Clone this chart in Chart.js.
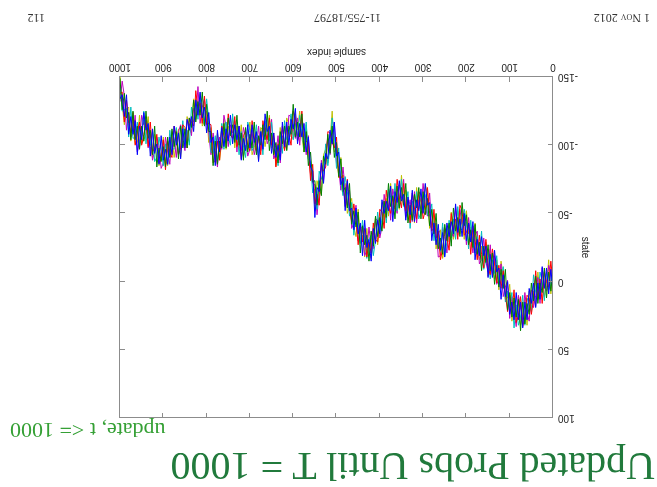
<!DOCTYPE html>
<html>
<head>
<meta charset="utf-8">
<script src="https://cdn.jsdelivr.net/npm/chart.js@4"></script>
<style>
  html, body { margin: 0; padding: 0; background: #fff; }
  #slide {
    position: relative; width: 657px; height: 487px; overflow: hidden;
    background: #fff; transform: rotate(180deg);
  }
  #slide canvas { position: absolute; left: 0; top: 0; }
  .title {
    position: absolute; left: 2px; top: -3px; white-space: nowrap;
    font: 40px "Liberation Serif", "Times New Roman", serif; color: #217a3c;
  }
  .sub {
    position: absolute; right: 10px; top: 44px; white-space: nowrap;
    font: 22px "Liberation Serif", "Times New Roman", serif; color: #35a035;
  }
  .foot {
    position: absolute; top: 462px; white-space: nowrap;
    font: 12px "Liberation Serif", "Times New Roman", serif; color: #333;
  }
</style>
</head>
<body>
<div id="slide">
  <canvas id="chart" width="657" height="487"></canvas>
  <div class="title">Updated Probs Until T = 1000</div>
  <div class="sub">update, t &lt;= 1000</div>
  <div class="foot" style="left:7px">1 <span style="font-variant:small-caps">Nov</span> 2012</div>
  <div class="foot" style="left:276px">11-755/18797</div>
  <div class="foot" style="left:612px">112</div>
</div>
<script>
// sample index of every plotted point
const sampleIdx = [
  0,5,10,15,20,25,30,35,40,45, 50,55,60,65,70,75,80,85,90,95,
  100,105,110,115,120,125,130,135,140,145, 150,155,160,165,170,175,180,185,190,195,
  200,205,210,215,220,225,230,235,240,245, 250,255,260,265,270,275,280,285,290,295,
  300,305,310,315,320,325,330,335,340,345, 350,355,360,365,370,375,380,385,390,395,
  400,405,410,415,420,425,430,435,440,445, 450,455,460,465,470,475,480,485,490,495,
  500,505,510,515,520,525,530,535,540,545, 550,555,560,565,570,575,580,585,590,595,
  600,605,610,615,620,625,630,635,640,645, 650,655,660,665,670,675,680,685,690,695,
  700,705,710,715,720,725,730,735,740,745, 750,755,760,765,770,775,780,785,790,795,
  800,805,810,815,820,825,830,835,840,845, 850,855,860,865,870,875,880,885,890,895,
  900,905,910,915,920,925,930,935,940,945, 950,955,960,965,970,975,980,985,990,995,
  1000];

const xTicks = [0,100,200,300,400,500,600,700,800,900,1000];
const yTicks = [-150,-100,-50,0,50,100];

// state of each particle run
const runBlue = [
  6,-9,9,-10,5,-11,13,1,19,1, 16,5,28,15,34,15,28,8,28,15,
  24,0,11,-5,13,-10,-7,-23,-3,-20, -3,-26,-19,-33,-19,-31,-16,-44,-29,-43,
  -30,-50,-33,-46,-36,-57,-35,-44,-33,-43, -18,-36,-23,-42,-27,-43,-30,-58,-56,-72,
  -50,-68,-52,-60,-44,-67,-49,-62,-45,-64, -59,-74,-58,-66,-44,-70,-52,-59,-50,-60,
  -35,-45,-28,-39,-15,-31,-25,-45,-19,-43, -35,-54,-38,-54,-52,-74,-52,-76,-71,-95,
  -92,-117,-101,-111,-90,-94,-72,-87,-66,-69, -47,-81,-84,-106,-95,-116,-106,-116,-101,-127,
  -112,-119,-100,-117,-99,-117,-89,-100,-91,-109, -94,-114,-110,-123,-97,-110,-88,-110,-102,-115,
  -98,-115,-96,-105,-89,-114,-104,-115,-101,-122, -103,-112,-99,-113,-95,-111,-85,-106,-102,-124,
  -109,-128,-120,-139,-122,-133,-110,-121,-111,-119, -98,-112,-90,-109,-100,-114,-93,-106,-86,-97,
  -89,-107,-86,-101,-94,-112,-92,-116,-111,-124, -104,-114,-93,-118,-108,-121,-108,-137,-121,-137,
  -134];
const runGreen = [
  -9,7,-7,12,-10,8,1,16,-4,14, 1,24,16,31,15,36,13,26,12,26,
  8,21,-9,5,-9,4,-12,2,-21,-8, -27,-14,-26,-8,-29,-20,-42,-25,-38,-27,
  -49,-41,-58,-33,-47,-37,-54,-26,-43,-30, -42,-20,-32,-24,-50,-35,-53,-41,-61,-49,
  -66,-46,-69,-54,-64,-45,-56,-43,-72,-56, -69,-54,-70,-46,-63,-55,-72,-47,-59,-37,
  -47,-33,-48,-26,-37,-15,-34,-27,-41,-21, -51,-40,-52,-42,-72,-54,-69,-66,-90,-77,
  -102,-91,-114,-94,-108,-86,-92,-63,-74,-56, -74,-73,-95,-85,-110,-95,-123,-106,-117,-106,
  -130,-108,-114,-96,-114,-101,-110,-87,-102,-93, -109,-96,-125,-104,-115,-100,-107,-93,-117,-98,
  -108,-95,-113,-89,-109,-100,-122,-102,-115,-107, -120,-98,-116,-98,-103,-86,-103,-85,-110,-110,
  -130,-114,-139,-122,-132,-117,-133,-113,-120,-98, -112,-98,-114,-90,-110,-99,-112,-91,-106,-84,
  -99,-88,-98,-84,-114,-93,-111,-105,-125,-103, -114,-97,-114,-104,-125,-104,-124,-120,-138,-126,
  -149];
const runRed = [
  1,-15,4,0,-7,16,-2,13,-8,13, 24,12,10,26,33,11,25,30,6,22,
  10,22,9,-8,5,-12,1,-13,-24,-5, -11,-31,-10,-20,-34,-16,-31,-41,-20,-42,
  -36,-34,-52,-56,-31,-46,-38,-50,-23,-32, -39,-24,-16,-37,-32,-53,-37,-50,-69,-52,
  -46,-63,-66,-46,-54,-65,-43,-60,-52,-72, -54,-62,-75,-53,-62,-50,-55,-67,-39,-51,
  -53,-29,-31,-43,-21,-29,-18,-39,-29,-42, -27,-45,-57,-44,-54,-75,-55,-78,-76,-77,
  -106,-98,-102,-109,-110,-84,-81,-86,-56,-64, -57,-86,-74,-102,-103,-100,-125,-109,-103,-120,
  -125,-100,-108,-114,-96,-114,-95,-101,-84,-109, -100,-120,-104,-109,-118,-93,-106,-96,-106,-118,
  -96,-100,-110,-107,-90,-106,-99,-121,-105,-108, -123,-102,-107,-114,-89,-103,-89,-87,-115,-116,
  -115,-136,-116,-131,-126,-140,-114,-117,-120,-98, -113,-115,-98,-93,-106,-114,-91,-95,-103,-82,
  -104,-90,-87,-108,-98,-95,-117,-99,-118,-108, -100,-117,-109,-100,-124,-109,-116,-133,-117,-139,
  -138];
const runCyan = [
  -14,2,6,-7,14,0,-7,11,8,-5, 22,17,12,32,10,26,32,17,34,8,
  19,7,15,-11,1,2,-19,-6,-16,-2, -23,-16,-9,-37,-20,-33,-21,-29,-45,-24,
  -44,-53,-38,-39,-55,-31,-46,-32,-45,-29, -19,-43,-22,-29,-42,-30,-57,-48,-49,-64,
  -63,-51,-46,-66,-50,-59,-39,-66,-56,-55, -75,-60,-52,-72,-52,-62,-68,-43,-57,-46,
  -36,-51,-30,-19,-34,-31,-17,-32,-45,-28, -37,-52,-34,-58,-48,-66,-77,-63,-73,-98,
  -83,-107,-120,-99,-85,-101,-80,-75,-81,-53, -68,-65,-88,-90,-117,-98,-109,-122,-107,-116,
  -104,-123,-104,-104,-118,-94,-107,-85,-99,-99, -117,-103,-108,-118,-93,-110,-92,-115,-100,-96,
  -111,-117,-91,-100,-110,-93,-111,-104,-123,-100, -106,-117,-97,-116,-98,-89,-107,-94,-95,-118,
  -134,-115,-123,-134,-119,-134,-117,-128,-100,-111, -101,-118,-100,-94,-113,-97,-98,-111,-86,-101,
  -85,-97,-106,-91,-88,-110,-100,-115,-101,-125, -107,-99,-117,-106,-105,-128,-106,-127,-126,-125,
  -145];
const runMagenta = [
  9,-6,-12,7,3,-10,16,-3,10,19, 6,29,23,8,28,19,10,33,22,11,
  27,-1,4,11,-13,-2,2,-19,-6,-27, -7,-15,-32,-16,-13,-37,-34,-21,-33,-47,
  -27,-48,-42,-53,-34,-55,-33,-36,-42,-21, -33,-40,-19,-18,-43,-38,-38,-65,-48,-55,
  -72,-53,-60,-43,-66,-44,-60,-52,-47,-75, -61,-71,-50,-59,-68,-45,-66,-52,-64,-40,
  -32,-46,-45,-24,-25,-40,-23,-19,-40,-39, -30,-56,-43,-39,-67,-56,-68,-84,-67,-83,
  -87,-117,-108,-93,-105,-94,-74,-89,-65,-49, -71,-72,-78,-107,-93,-111,-120,-100,-120,-105,
  -113,-121,-122,-97,-101,-107,-87,-107,-94,-90, -119,-106,-101,-115,-115,-96,-114,-100,-93,-111,
  -97,-92,-106,-113,-96,-114,-95,-118,-109,-115, -99,-114,-122,-97,-106,-84,-96,-109,-93,-109,
  -116,-134,-128,-116,-143,-119,-127,-107,-116,-118, -96,-102,-115,-110,-91,-105,-110,-86,-95,-106,
  -87,-83,-100,-106,-96,-89,-108,-98,-121,-115, -122,-103,-95,-122,-108,-106,-124,-111,-136,-147,
  -132];
const runOlive = [
  -7,9,-16,3,11,-6,9,-7,18,7, 19,7,32,13,24,32,11,28,16,29,
  2,12,13,-3,-15,6,-16,-2,-10,-24, -4,-29,-14,-26,-16,-24,-43,-24,-40,-35,
  -52,-31,-47,-35,-52,-40,-31,-51,-29,-41, -25,-17,-38,-35,-24,-49,-42,-39,-65,-71,
  -51,-61,-53,-69,-43,-57,-46,-45,-67,-59, -78,-53,-61,-68,-49,-72,-48,-61,-45,-58,
  -41,-27,-47,-34,-17,-21,-39,-18,-34,-31, -53,-33,-40,-61,-56,-50,-72,-68,-91,-76,
  -99,-95,-125,-103,-87,-97,-93,-64,-67,-74, -52,-81,-79,-93,-115,-95,-106,-125,-111,-123,
  -105,-106,-115,-120,-97,-100,-113,-92,-85,-105, -98,-122,-110,-99,-111,-113,-89,-106,-98,-93,
  -117,-99,-100,-92,-115,-98,-114,-98,-120,-107, -114,-97,-119,-103,-89,-109,-87,-97,-113,-102,
  -125,-118,-114,-138,-123,-122,-134,-109,-111,-121, -103,-109,-91,-112,-102,-91,-107,-102,-85,-89,
  -106,-92,-85,-101,-108,-91,-99,-121,-108,-104, -101,-122,-102,-101,-117,-103,-128,-126,-115,-130,
  -151];

const runs = [runBlue, runGreen, runRed, runCyan, runMagenta, runOlive];
const runColors = ['#0000ff', '#008000', '#ff0000', '#00bfbf', '#bf00bf', '#bfbf00'];

// box around the axes with short inward ticks on all four sides
const boxTicks = {
  id: 'boxTicks',
  afterDatasetsDraw(chart) {
    const { ctx, chartArea: a, scales: { x, y } } = chart;
    const len = 5;
    ctx.save();
    ctx.strokeStyle = '#8c8c8c';
    ctx.lineWidth = 1;
    ctx.strokeRect(Math.round(a.left) + 0.5, Math.round(a.top) + 0.5,
      Math.round(a.right - a.left), Math.round(a.bottom - a.top));
    ctx.beginPath();
    xTicks.forEach(v => {
      const px = Math.round(x.getPixelForValue(v)) + 0.5;
      ctx.moveTo(px, a.bottom); ctx.lineTo(px, a.bottom - len);
      ctx.moveTo(px, a.top); ctx.lineTo(px, a.top + len);
    });
    yTicks.forEach(v => {
      const py = Math.round(y.getPixelForValue(v)) + 0.5;
      ctx.moveTo(a.left, py); ctx.lineTo(a.left + len, py);
      ctx.moveTo(a.right, py); ctx.lineTo(a.right - len, py);
    });
    ctx.stroke();
    ctx.restore();
  }
};

const tickFont = { family: '"Liberation Sans", Arial, sans-serif', size: 10 };

new Chart(document.getElementById('chart'), {
  type: 'line',
  data: {
    labels: sampleIdx,
    datasets: runs.map((r, i) => ({
      data: r,
      borderColor: runColors[i],
      borderWidth: 1,
      pointRadius: 0,
      tension: 0,
      fill: false
    }))
  },
  options: {
    responsive: false,
    animation: false,
    devicePixelRatio: 1,
    layout: { padding: { left: 60, right: 120, top: 69, bottom: 40 } },
    plugins: { legend: { display: false }, tooltip: { enabled: false } },
    scales: {
      x: {
        type: 'linear',
        min: xTicks[0], max: xTicks[xTicks.length - 1],
        afterFit: s => { s.height = 37; },
        grid: { display: false, drawTicks: false },
        border: { display: false },
        ticks: { stepSize: 100, padding: 4, maxRotation: 0, color: '#222', font: tickFont,
                 callback: v => String(v) },
        title: { display: true, text: 'sample index', color: '#222', font: tickFont, padding: { top: 0, bottom: 6 } }
      },
      y: {
        min: yTicks[0], max: yTicks[yTicks.length - 1],
        afterFit: s => { s.width = 44; },
        grid: { display: false, drawTicks: false },
        border: { display: false },
        ticks: { stepSize: 50, padding: 5, color: '#222', font: tickFont },
        title: { display: true, text: 'state', color: '#222', font: tickFont, padding: { top: 6, bottom: 0 } }
      }
    }
  },
  plugins: [boxTicks]
});
</script>
</body>
</html>
